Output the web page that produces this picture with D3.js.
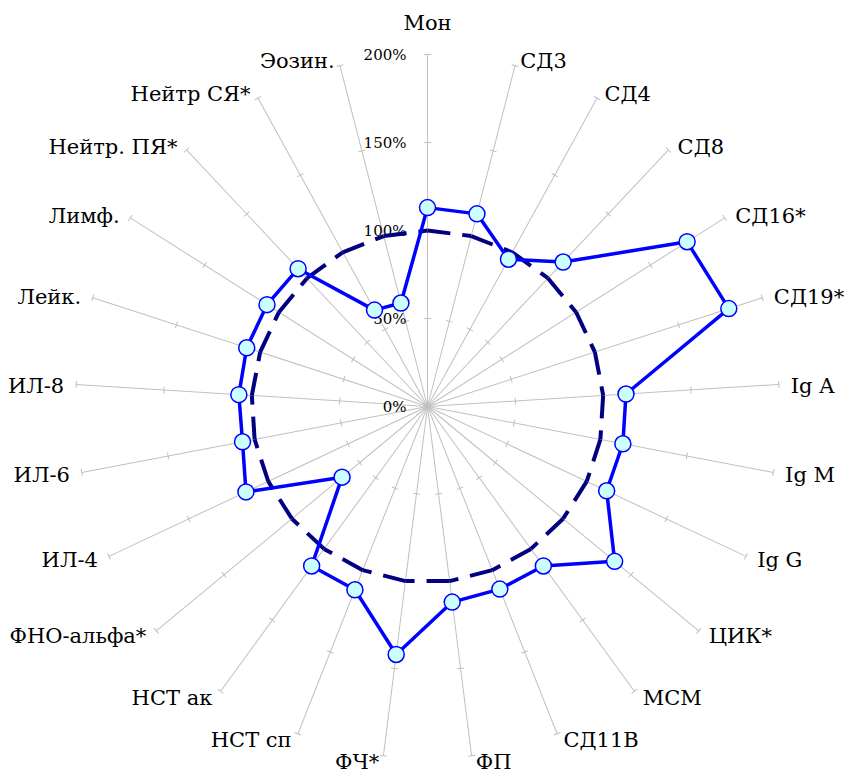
<!DOCTYPE html>
<html>
<head>
<meta charset="utf-8">
<script src="https://cdn.jsdelivr.net/npm/d3@7"></script>
<style>
	body { margin: 0; background: #fff; }
	svg text { font-family: "DejaVu Serif", serif; fill: #000; }
	.spoke { stroke: #c0c0c0; stroke-width: 1; }
	.tick { stroke: #c0c0c0; stroke-width: 1; }
	.cat { font-size: 21px; }
	.pct { font-size: 15px; }
	.norm { stroke: #000080; stroke-width: 4; fill: none; stroke-dasharray: 23 12; }
	.series { stroke: #0000ff; stroke-width: 3.5; fill: none; stroke-linejoin: round; }
	.dot { fill: #ccffff; stroke: #0000ff; stroke-width: 1.5; }
</style>
</head>
<body>
<svg id="radar" width="845" height="773"></svg>
<script>
const Width = 845;
const Height = 773;

const categories = ["Мон", "СД3", "СД4", "СД8", "СД16*", "СД19*", "Ig A", "Ig M", "Ig G", "ЦИК*", "МСМ", "СД11В", "ФП", "ФЧ*", "НСТ сп", "НСТ ак", "ФНО-альфа*", "ИЛ-4", "ИЛ-6", "ИЛ-8", "Лейк.", "Лимф.", "Нейтр. ПЯ*", "Нейтр СЯ*", "Эозин."];
// patient values, % of the norm
const values = [113, 113, 95.5, 112.6, 174.7, 180, 113, 113, 112.5, 138, 112, 111.6, 112, 142, 112, 112, 63, 114, 107, 107.4, 108, 108, 107.4, 62.5, 60.7];
// norm line
const norm = [100, 100, 100, 100, 100, 100, 100, 100, 100, 100, 100, 100, 100, 100, 100, 100, 100, 100, 100, 100, 100, 100, 100, 100, 100];
const ticks = [0, 50, 100, 150, 200];
const tickLabels = ["0%", "50%", "100%", "150%", "200%"];

const cx = 427.5, cy = 406.5;
const svg = d3.select("#radar");
const g = svg.append("g").attr("transform", `translate(${cx},${cy})`);

const r = d3.scaleLinear().domain([0, 200]).range([0, 352]);
const angle = d3.scaleLinear().domain([0, categories.length]).range([0, 2 * Math.PI]);
const px = (i, v) => r(v) * Math.sin(angle(i));
const py = (i, v) => -r(v) * Math.cos(angle(i));

// spokes with small cross ticks
const spokes = g.selectAll("g.axis").data(categories).enter().append("g").attr("class", "axis")
	.attr("transform", (d, i) => `rotate(${angle(i) * 180 / Math.PI})`);
spokes.append("line").attr("class", "spoke").attr("x1", 0).attr("y1", 0).attr("x2", 0).attr("y2", -r(200));
spokes.selectAll("line.tick").data(ticks.slice(1)).enter().append("line").attr("class", "tick")
	.attr("x1", -3.5).attr("x2", 3.5).attr("y1", d => -r(d)).attr("y2", d => -r(d));

// value labels along the first spoke
g.selectAll("text.pct").data(ticks).enter().append("text").attr("class", "pct")
	.attr("x", -21).attr("y", d => -r(d)).attr("dy", "0.36em").attr("text-anchor", "end")
	.text((d, i) => tickLabels[i]);

// category labels
g.selectAll("text.cat").data(categories).enter().append("text").attr("class", "cat")
	.attr("x", (d, i) => {
		const s = Math.sin(angle(i));
		const ex = px(i, 200);
		if (Math.abs(s) < 0.05) return ex;
		return ex + Math.sign(s) * (3 + 9 * Math.abs(s));
	})
	.attr("y", (d, i) => {
		const c = Math.cos(angle(i));
		const ey = py(i, 200);
		if (i === 0) return ey - 32;
		return ey - 6 * c + (c < -0.9 ? 0 : 1);
	})
	.attr("dy", "0.36em")
	.attr("text-anchor", (d, i) => {
		const s = Math.sin(angle(i));
		return Math.abs(s) < 0.05 ? "middle" : (s > 0 ? "start" : "end");
	})
	.text(d => d);

// norm line, drawn segment by segment so each dash pattern restarts at a spoke
g.selectAll("line.norm").data(norm).enter().append("line").attr("class", "norm")
	.attr("x1", (d, i) => px(i, d)).attr("y1", (d, i) => py(i, d))
	.attr("x2", (d, i) => px((i + 1) % norm.length, norm[(i + 1) % norm.length]))
	.attr("y2", (d, i) => py((i + 1) % norm.length, norm[(i + 1) % norm.length]));

// patient series
const line = d3.line().x(d => px(d.i, d.v)).y(d => py(d.i, d.v)).curve(d3.curveLinearClosed);
g.append("path").attr("class", "series").attr("d", line(values.map((v, i) => ({ i, v }))));
g.selectAll("circle.dot").data(values).enter().append("circle").attr("class", "dot")
	.attr("cx", (d, i) => px(i, d)).attr("cy", (d, i) => py(i, d)).attr("r", 8);
</script>
</body>
</html>
